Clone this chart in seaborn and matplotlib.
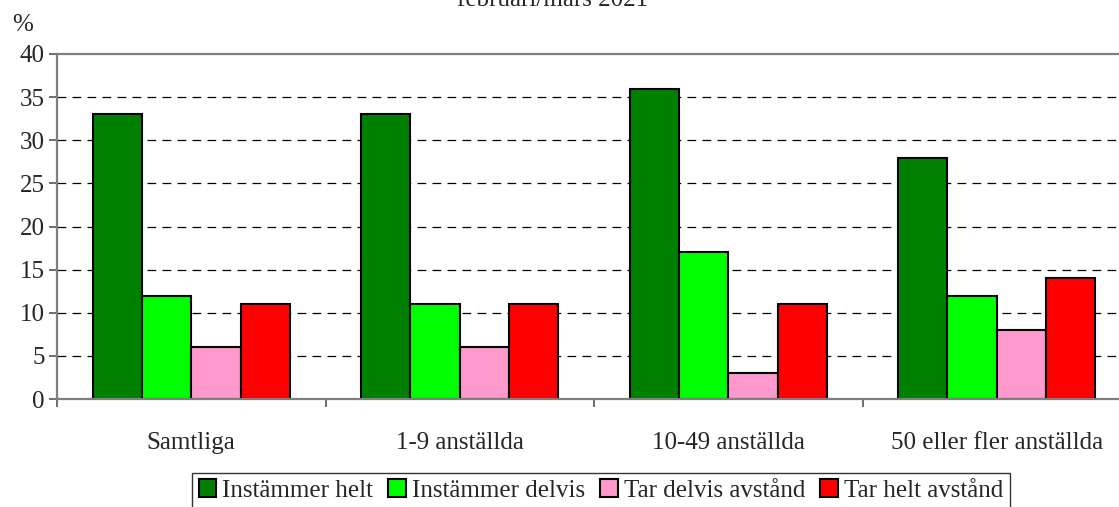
import matplotlib
matplotlib.use('Agg')
import matplotlib.pyplot as plt
import seaborn as sns
import pandas as pd

## Data
kategorier = ['Samtliga', '1-9 anställda', '10-49 anställda', '50 eller fler anställda']
svar = ['Instämmer helt', 'Instämmer delvis', 'Tar delvis avstånd', 'Tar helt avstånd']
instammer_helt = [33, 33, 36, 28]
instammer_delvis = [12, 11, 17, 12]
tar_delvis_avstand = [6, 6, 3, 8]
tar_helt_avstand = [11, 11, 11, 14]
y_ticks = [0, 5, 10, 15, 20, 25, 30, 35, 40]
farger = ['#008000', '#00FF00', '#FF99CC', '#FF0000']

serier = [instammer_helt, instammer_delvis, tar_delvis_avstand, tar_helt_avstand]
rows = []
for s, vals in zip(svar, serier):
    for k, v in zip(kategorier, vals):
        rows.append({'Kategori': k, 'Svar': s, 'Procent': v})
df = pd.DataFrame(rows)

sns.set_style('white')
plt.rcParams['font.family'] = ['Liberation Serif', 'DejaVu Serif']

fig = plt.figure(figsize=(11.19, 5.07), dpi=100)
ax = fig.add_axes([57 / 1119, 1 - 399 / 507, 1074 / 1119, 345 / 507])

sns.barplot(data=df, x='Kategori', y='Procent', hue='Svar', order=kategorier,
            hue_order=svar, palette=farger, width=0.735, edgecolor='black',
            linewidth=1.5, saturation=1, ax=ax, legend=True)

ax.set_xlim(-0.5, len(kategorier) - 0.5)
ax.set_ylim(0, 40)
ax.set_yticks(y_ticks)
ax.set_xlabel('')
ax.set_ylabel('')

# rutnät streckat, ej vid 40
ax.yaxis.grid(True, color='black', linestyle=(0, (7, 5)), linewidth=0.9)
ax.set_axisbelow(True)
ax.get_ygridlines()[-1].set_visible(False)

for side in ['top', 'left', 'bottom']:
    ax.spines[side].set_color('#7f7f7f')
    ax.spines[side].set_linewidth(1.6)
ax.spines['right'].set_visible(False)

ax.tick_params(axis='y', labelsize=18, length=6, width=1.2, color='#555555', pad=3, left=True)
ax.set_xticks([i - 0.5 for i in range(len(kategorier) + 1)], minor=True)
ax.tick_params(axis='x', which='minor', length=6, width=1.2, color='#555555', bottom=True)
ax.tick_params(axis='x', which='major', length=0, labelsize=18, pad=24)

fig.text(12 / 1119, 1 - 31 / 507, '%', fontsize=18)
fig.text(553 / 1119, 1 - 6 / 507, 'februari/mars 2021', fontsize=18,
         ha='center', va='baseline')

handles, labels = ax.get_legend_handles_labels()
ax.get_legend().remove()
leg = fig.legend(handles, labels, loc='upper center', ncol=4,
                 bbox_to_anchor=(601 / 1119, 1 - 473 / 507), fontsize=18,
                 frameon=True, fancybox=False, edgecolor='black',
                 handlelength=0.7, handleheight=0.7, handletextpad=0.25,
                 columnspacing=0.6, borderpad=0.25, borderaxespad=0)
leg.get_frame().set_linewidth(1.0)

plt.savefig('out.png', dpi=100)
plt.close()
